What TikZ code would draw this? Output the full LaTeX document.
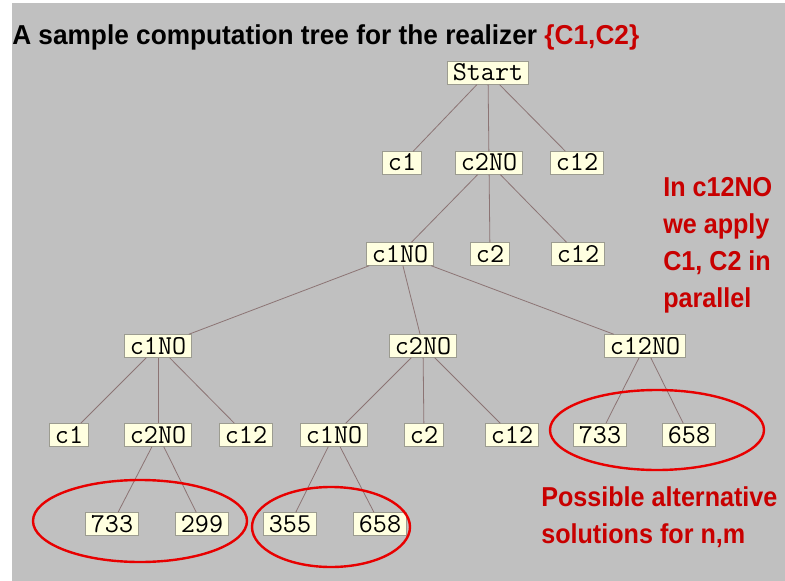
\documentclass[tikz,border=0pt]{standalone}
\usepackage{fontspec}
\setmainfont{Liberation Sans}
\newfontfamily\headfont[FakeStretch=0.96]{Liberation Sans}
\newfontfamily\notefont[FakeStretch=0.92]{Liberation Sans}
\definecolor{slidegray}{HTML}{C0C0C0}
\definecolor{boxfill}{HTML}{FFFFE0}
\definecolor{boxedge}{HTML}{9C9C90}
\definecolor{edgebrown}{HTML}{8C7474}
\definecolor{notered}{HTML}{C80000}
\definecolor{ringred}{HTML}{E80000}
\usepackage{tikz}

\begin{document}
\begin{tikzpicture}[
    x=0.75pt, y=-0.75pt,
    tbox/.style={rectangle, draw=boxedge, fill=boxfill, line width=0.6pt,
                 font=\fontsize{20.5}{20.5}\ttfamily, inner xsep=4pt, inner ysep=2pt,
                 text height=12.5pt, text depth=0.5pt},
    link/.style={edgebrown, line width=0.6pt},
    ring/.style={ringred, line width=1.8pt},
    note/.style={font=\notefont\bfseries\fontsize{20.5}{27.75}\selectfont,
                 text=notered, align=left, inner sep=0pt, anchor=base west},
  ]
  \useasboundingbox (0,0) rectangle (785,581);
  \fill[slidegray] (12,3) rectangle (785,581);

  \node[anchor=base west, inner sep=0pt, font=\headfont\bfseries\fontsize{20.5}{24}\selectfont]
    (title) at (12,45) {A sample computation tree for the realizer \textcolor{notered}{\{C1,C2\}}};

  % tree, level by level
  \node[tbox] (start) at (488,73) {Start};

  \node[tbox] (a1) at (402,163) {c1};
  \node[tbox] (a2) at (489,163) {c2NO};
  \node[tbox] (a3) at (577,163) {c12};

  \node[tbox] (b1) at (400,254) {c1NO};
  \node[tbox] (b2) at (490,254) {c2};
  \node[tbox] (b3) at (578,254) {c12};

  \node[tbox] (d1) at (158,346) {c1NO};
  \node[tbox] (d2) at (423,346) {c2NO};
  \node[tbox] (d3) at (645,346) {c12NO};

  \node[tbox] (e1) at (69,435) {c1};
  \node[tbox] (e2) at (158,435) {c2NO};
  \node[tbox] (e3) at (246,435) {c12};
  \node[tbox] (e4) at (334,435) {c1NO};
  \node[tbox] (e5) at (424,435) {c2};
  \node[tbox] (e6) at (512,435) {c12};
  \node[tbox] (e7) at (600,435) {733};
  \node[tbox] (e8) at (689,435) {658};

  \node[tbox] (f1) at (112,524) {733};
  \node[tbox] (f2) at (202,524) {299};
  \node[tbox] (f3) at (290,524) {355};
  \node[tbox] (f4) at (380,524) {658};

  \foreach \p/\c in {start/a1, start/a2, start/a3, a2/b1, a2/b2, a2/b3,
                     b1/d1, b1/d2, b1/d3, d1/e1, d1/e2, d1/e3, d2/e4, d2/e5, d2/e6,
                     d3/e7, d3/e8, e2/f1, e2/f2, e4/f3, e4/f4}
    \draw[link] (\p) -- (\c);

  % solution sets
  \draw[ring] (140,521) ellipse [x radius=107, y radius=41];
  \draw[ring] (331,527) ellipse [x radius=79, y radius=40];
  \draw[ring] (657,430) ellipse [x radius=107, y radius=40];

  % base anchor sits on the last line
  \node[note] (par) at (663,307) {In c12NO\\we apply\\C1, C2 in\\parallel};
  \node[note] (alt) at (541,543) {Possible alternative\\solutions for n,m};
\end{tikzpicture}
\end{document}
